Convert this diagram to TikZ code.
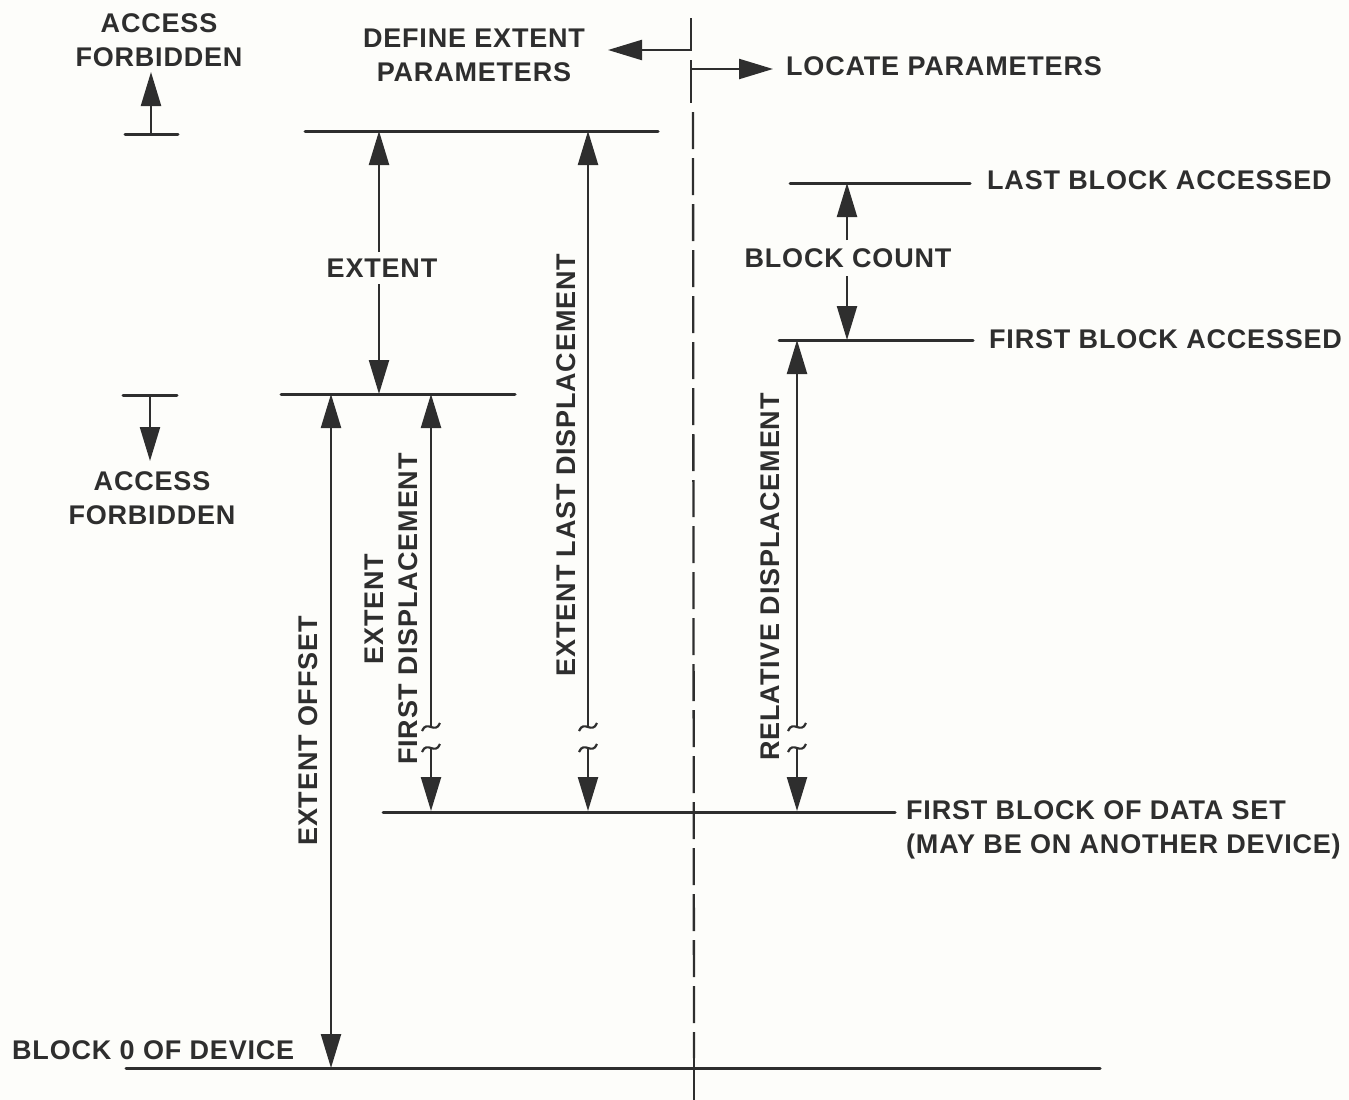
\documentclass[tikz,border=0pt]{standalone}
\usepackage{fontspec}
\setmainfont{Liberation Sans}
\newfontfamily\lblfont[LetterSpace=3]{Liberation Sans}
\usetikzlibrary{arrows.meta}
\definecolor{inkc}{HTML}{2E2E2E}
\definecolor{bgc}{HTML}{FDFDFA}
\begin{document}
\begin{tikzpicture}[x=1pt,y=-1pt,
  lvl/.style={line width=3pt, draw=inkc, line cap=round},
  dim/.style={line width=2.3pt, draw=inkc},
  tipend/.style={-{Triangle[length=34pt,width=20pt]}},
  dbl/.style={{Triangle[length=34pt,width=20pt]}-{Triangle[length=34pt,width=20pt]}},
  lbl/.style={font=\lblfont\fontsize{27}{34}\selectfont\bfseries, text=inkc, inner sep=0pt, align=center},
  brk/.pic={\draw[line width=2.2pt, draw=inkc] (-9,4) .. controls (-4,-8) and (4,8) .. (9,-4);},
]
\fill[bgc] (0,0) rectangle (1349,1100);
\useasboundingbox (0,0) rectangle (1349,1100);

% level lines
\coordinate (topL) at (305,131);   \coordinate (topR) at (658,131);
\coordinate (botL) at (281,394);   \coordinate (botR) at (515,394);
\coordinate (lbaL) at (790,183);   \coordinate (lbaR) at (970,183);
\coordinate (fbaL) at (779,340);   \coordinate (fbaR) at (973,340);
\coordinate (dsL) at (383,812);    \coordinate (dsR) at (895,812);
\coordinate (b0L) at (126,1068);   \coordinate (b0R) at (1100,1068);
\draw[lvl] (topL) -- (topR);
\draw[lvl] (botL) -- (botR);
\draw[lvl] (lbaL) -- (lbaR);
\draw[lvl] (fbaL) -- (fbaR);
\draw[lvl] (dsL) -- (dsR);
\draw[lvl] (b0L) -- (b0R);

% access forbidden markers
\coordinate (t1L) at (125,134); \coordinate (t1R) at (178,134);
\coordinate (t1a) at (151,134); \coordinate (t1b) at (151,72);
\draw[lvl] (t1L) -- (t1R);
\draw[dim,tipend] (t1a) -- (t1b);
\coordinate (t2L) at (123,395); \coordinate (t2R) at (177,395);
\coordinate (t2a) at (150,395); \coordinate (t2b) at (150,461);
\draw[lvl] (t2L) -- (t2R);
\draw[dim,tipend] (t2a) -- (t2b);

% divider
\coordinate (dv0) at (691,18);  \coordinate (dv1) at (691,50);
\coordinate (defTip) at (608,50);
\coordinate (dv2) at (691,60);  \coordinate (dv3) at (691,103);
\coordinate (dvm) at (691,69);  \coordinate (locTip) at (773,69);
\draw[dim,tipend] (dv0) -- (dv1) -- (defTip);
\draw[dim] (dv2) -- (dv3);
\draw[dim,tipend] (dvm) -- (locTip);
\coordinate (dd0) at (693,112); \coordinate (dd1) at (694,1058); \coordinate (dd2) at (694,1100);
\draw[line width=2.3pt, draw=inkc, dash pattern=on 37pt off 9pt] (dd0) -- (dd1);
\draw[dim] (dd1) -- (dd2);

% EXTENT
\coordinate (e1) at (379,252); \coordinate (e2) at (379,131);
\coordinate (e3) at (379,284); \coordinate (e4) at (379,394);
\draw[dim,tipend] (e1) -- (e2);
\draw[dim,tipend] (e3) -- (e4);

% BLOCK COUNT
\coordinate (c1) at (847,240); \coordinate (c2) at (847,183);
\coordinate (c3) at (847,276); \coordinate (c4) at (847,340);
\draw[dim,tipend] (c1) -- (c2);
\draw[dim,tipend] (c3) -- (c4);

% EXTENT OFFSET
\coordinate (o1) at (331,394); \coordinate (o2) at (331,1068);
\draw[dim,dbl] (o1) -- (o2);

% broken arrows
\foreach \nm/\xx/\yy in {efd/431/394, eld/588/131, rd/797/340}{
  \coordinate (\nm top) at (\xx,\yy);
  \coordinate (\nm m1) at (\xx,727);
  \coordinate (\nm m2) at (\xx,748);
  \coordinate (\nm bot) at (\xx,811);
  \draw[dim,tipend] (\nm m1) -- (\nm top);
  \draw[dim,tipend] (\nm m2) -- (\nm bot);
  \pic at (\nm m1) {brk};
  \pic at (\nm m2) {brk};
}

% labels
\node[lbl] (accTop) at (159,40) {ACCESS\\FORBIDDEN};
\node[lbl] (defExt) at (474,55) {DEFINE EXTENT\\PARAMETERS};
\node[lbl, anchor=west] (locPar) at (786,66) {LOCATE PARAMETERS};
\node[lbl, anchor=west] (lastBA) at (987,180) {LAST BLOCK ACCESSED};
\node[lbl] (blkCnt) at (848,258) {BLOCK COUNT};
\node[lbl, anchor=west] (firstBA) at (989,339) {FIRST BLOCK ACCESSED};
\node[lbl] (extent) at (382,268) {EXTENT};
\node[lbl] (accBot) at (152,498) {ACCESS\\FORBIDDEN};
\node[lbl, anchor=west, align=left] (dataSet) at (906,830) {FIRST BLOCK OF DATA SET\\(MAY BE ON ANOTHER DEVICE)};
\node[lbl, anchor=west] (blk0) at (12,1050) {BLOCK 0 OF DEVICE};
\node[lbl, rotate=90] (extOff) at (308,731) {EXTENT OFFSET};
\node[lbl, rotate=90] (extFD) at (391,609) {EXTENT\\FIRST DISPLACEMENT};
\node[lbl, rotate=90] (extLD) at (566,465) {EXTENT LAST DISPLACEMENT};
\node[lbl, rotate=90] (relD) at (770,577) {RELATIVE DISPLACEMENT};
\end{tikzpicture}
\end{document}
